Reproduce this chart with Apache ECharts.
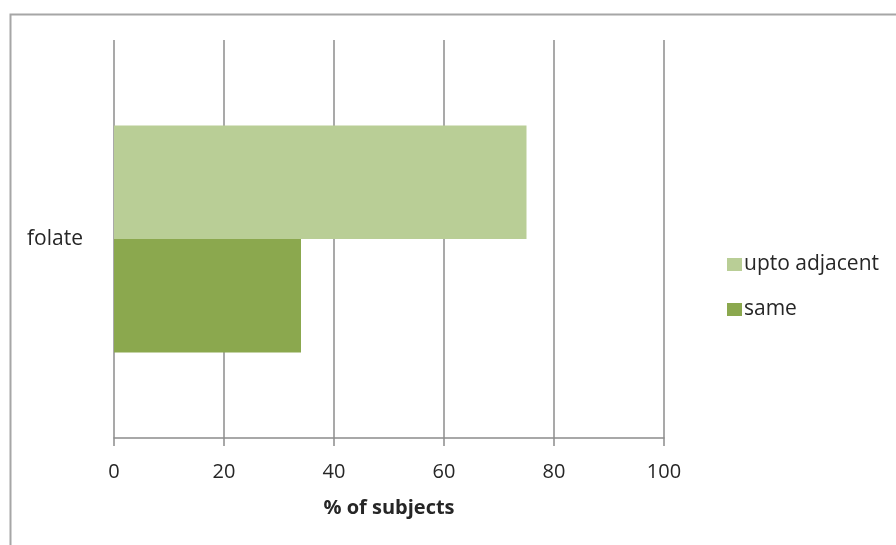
<!DOCTYPE html>
<html>
<head>
<meta charset="utf-8">
<script src="https://cdn.jsdelivr.net/npm/echarts@6/dist/echarts.min.js"></script>
<style>
html,body{margin:0;padding:0;background:#fff;}
#chart{width:896px;height:545px;}
</style>
</head>
<body>
<div id="chart"></div>
<script>
const categories = ['folate'];
const seriesNames = ['upto adjacent', 'same'];
const uptoAdjacent = [75];
const same = [34];
const xTicks = [0, 20, 40, 60, 80, 100];

const FONT = '"Open Sans", "DejaVu Sans", sans-serif';
const chart = echarts.init(document.getElementById('chart'), null, {renderer: 'canvas'});
chart.setOption({
  backgroundColor: '#ffffff',
  animation: false,
  graphic: [{
    type: 'rect',
    shape: {x: 10.5, y: 14.5, width: 1000, height: 1000},
    style: {fill: 'none', stroke: '#a6a6a6', lineWidth: 2},
    z: -1
  }],
  legend: {
    orient: 'vertical',
    left: 722,
    top: 249,
    itemWidth: 15,
    itemHeight: 13,
    itemGap: 24,
    icon: 'rect',
    data: seriesNames,
    textStyle: {fontFamily: FONT, fontSize: 21, color: '#262626', padding: [0, 0, 0, -3]}
  },
  grid: {left: 114, right: 232, top: 40, bottom: 107, containLabel: false},
  xAxis: {
    type: 'value',
    min: xTicks[0],
    max: xTicks[xTicks.length - 1],
    interval: 20,
    name: '% of subjects',
    nameLocation: 'middle',
    nameGap: 60,
    nameTextStyle: {fontFamily: FONT, fontSize: 20, fontWeight: 'bold', color: '#262626'},
    axisLine: {show: true, lineStyle: {color: '#8c8c8c', width: 1.5}},
    axisTick: {show: true, length: 8, lineStyle: {color: '#8c8c8c', width: 1.5}},
    axisLabel: {fontFamily: FONT, fontSize: 20, color: '#262626', margin: 24},
    splitLine: {show: true, lineStyle: {color: '#8c8c8c', width: 1.5}}
  },
  yAxis: {
    type: 'category',
    data: categories,
    axisLine: {show: false},
    axisTick: {show: false},
    axisLabel: {fontFamily: FONT, fontSize: 21, color: '#262626', margin: 31},
    splitLine: {show: false}
  },
  series: [
    {
      name: 'upto adjacent',
      type: 'bar',
      data: uptoAdjacent,
      itemStyle: {color: '#b9ce96'},
      barGap: '0%',
      barCategoryGap: '43%'
    },
    {
      name: 'same',
      type: 'bar',
      data: same,
      itemStyle: {color: '#8ba84e'},
      barGap: '0%',
      barCategoryGap: '43%'
    }
  ]
});
</script>
</body>
</html>
